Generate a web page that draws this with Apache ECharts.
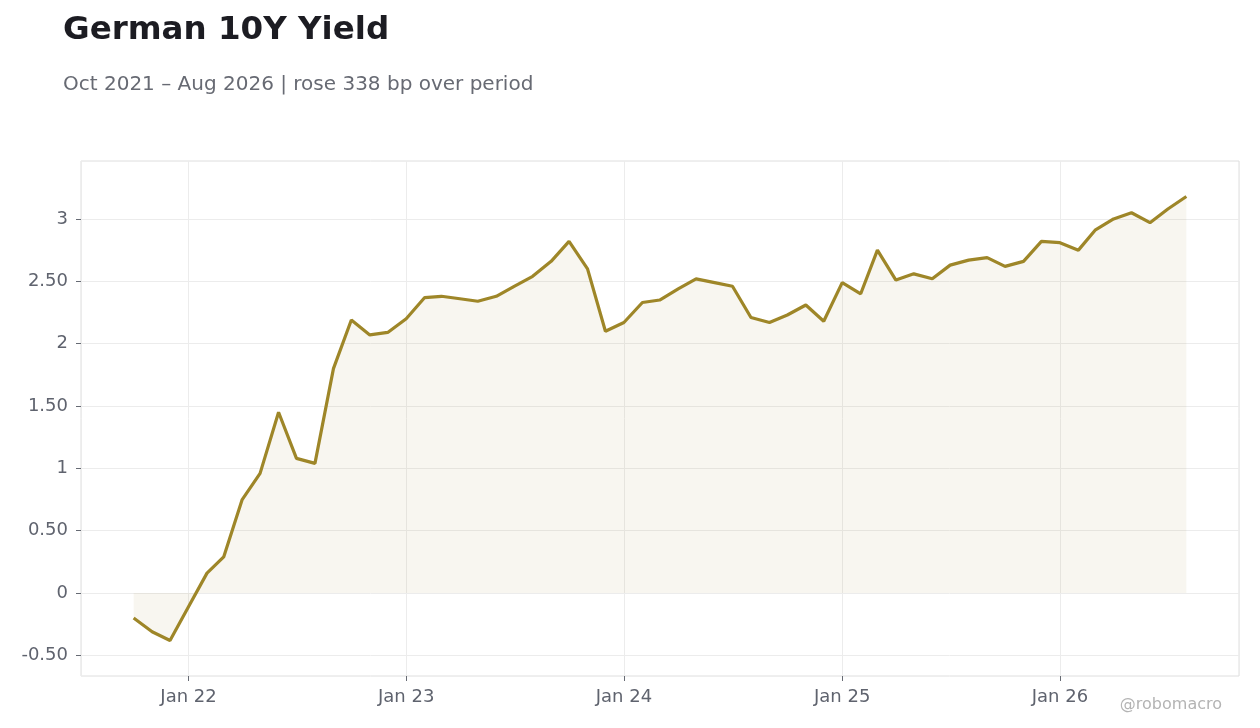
<!DOCTYPE html>
<html>
<head>
<meta charset="utf-8">
<title>German 10Y Yield</title>
<script src="https://cdn.jsdelivr.net/npm/echarts@6/dist/echarts.min.js"></script>
<style>
  html, body { margin: 0; padding: 0; background: #fff; }
  #chart { width: 1260px; height: 728px; }
</style>
</head>
<body>
<div id="chart"></div>
<script>
// monthly German 10Y yield, first month of series
const startYear = 2021;
const startMonth = 9; // October (0-based)

const yields = [
  -0.20, -0.31, -0.38,
  -0.11, 0.16, 0.29, 0.75, 0.96, 1.45, 1.08, 1.04, 1.80, 2.19, 2.07, 2.09,
  2.20, 2.37, 2.38, 2.36, 2.34, 2.38, 2.46, 2.54, 2.66, 2.82, 2.60, 2.10,
  2.17, 2.33, 2.35, 2.44, 2.52, 2.49, 2.46, 2.21, 2.17, 2.23, 2.31, 2.18,
  2.49, 2.40, 2.75, 2.51, 2.56, 2.52, 2.63, 2.67, 2.69, 2.62, 2.66, 2.82,
  2.81, 2.75, 2.91, 3.00, 3.05, 2.97, 3.08, 3.18
];

const yTicks = [-0.5, 0, 0.5, 1, 1.5, 2, 2.5, 3];

const dates = yields.map((_, i) => Date.UTC(startYear, startMonth + i, 1));
const seriesData = yields.map((v, i) => [dates[i], v]);

// 5% padding on x, 8% on y, like the original
const xSpan = dates[dates.length - 1] - dates[0];
const yMin = Math.min(...yields), yMax = Math.max(...yields);
const ySpan = yMax - yMin;

const chart = echarts.init(document.getElementById('chart'));
const font = 'DejaVu Sans';
const gridColor = '#ececec';
const labelColor = '#5f636e';

chart.setOption({
  animation: false,
  backgroundColor: '#ffffff',
  title: [
    {
      text: 'German 10Y Yield',
      left: 58, top: 9,
      textStyle: { fontFamily: font, fontSize: 32.5, fontWeight: 'bold', color: '#1c1c22' }
    },
    {
      text: 'Oct 2021 – Aug 2026 | rose 338 bp over period',
      left: 58, top: 70,
      textStyle: { fontFamily: font, fontSize: 20, fontWeight: 'normal', color: '#676a73' }
    },
    {
      text: '@robomacro',
      right: 33, top: 692,
      textStyle: { fontFamily: font, fontSize: 16, fontWeight: 'normal', color: '#b4b4b4' }
    }
  ],
  grid: {
    left: 81, right: 21, top: 161, bottom: 52,
    show: true, borderColor: '#dedede', borderWidth: 1, backgroundColor: 'transparent'
  },
  xAxis: {
    type: 'time',
    min: dates[0] - xSpan * 0.05,
    max: dates[dates.length - 1] + xSpan * 0.05,
    axisLine: { show: false, onZero: false },
    axisTick: { show: true, length: 5, lineStyle: { color: '#666a73' } },
    axisLabel: {
      fontFamily: font, fontSize: 18, color: labelColor, margin: 12,
      showMinLabel: false, showMaxLabel: false,
      formatter: v => 'Jan ' + String(new Date(v).getUTCFullYear()).slice(2)
    },
    splitLine: { show: true, lineStyle: { color: gridColor, width: 1 } }
  },
  yAxis: {
    type: 'value',
    min: yMin - ySpan * 0.08,
    max: yMax + ySpan * 0.08,
    splitNumber: 8,
    axisLine: { show: false, onZero: false },
    axisTick: { show: true, length: 5, lineStyle: { color: '#666a73' }, customValues: yTicks },
    axisLabel: {
      fontFamily: font, fontSize: 18, color: labelColor, margin: 13,
      customValues: yTicks,
      formatter: v => Number.isInteger(v) ? String(v) : v.toFixed(2)
    },
    splitLine: { show: true, lineStyle: { color: gridColor, width: 1 } }
  },
  series: [
    {
      type: 'line',
      data: seriesData,
      showSymbol: false,
      lineStyle: { color: '#9e8628', width: 3.2 },
      itemStyle: { color: '#9e8628' },
      areaStyle: { color: 'rgba(158,134,40,0.1)', origin: 0 }
    }
  ]
});
</script>
</body>
</html>
